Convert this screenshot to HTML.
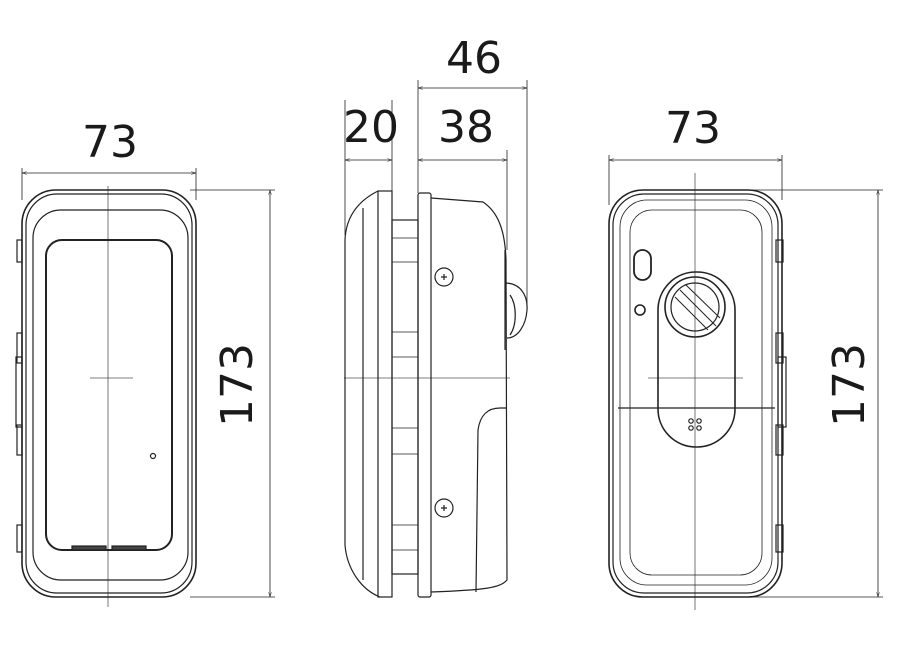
<!DOCTYPE html>
<html><head><meta charset="utf-8"><style>html,body{margin:0;padding:0;background:#fff}svg{display:block}text{font-family:"DejaVu Sans","Liberation Sans",sans-serif;fill:#1a1a1a}</style></head>
<body>
<svg width="903" height="647" viewBox="0 0 903 647" xmlns="http://www.w3.org/2000/svg" fill="none" stroke="#222" stroke-width="1.2">
<defs><marker id="a" viewBox="0 0 10 10" refX="10" refY="5" markerWidth="8" markerHeight="6" orient="auto-start-reverse"><path d="M0,2 L10,5 L0,8" stroke="#222" fill="none" stroke-width="1"/></marker></defs>

<!-- LEFT VIEW -->
<g stroke-width="0.8">
<line x1="22" y1="168" x2="22" y2="200"/><line x1="196" y1="168" x2="196" y2="200"/>
<line x1="22" y1="173" x2="196" y2="173" marker-start="url(#a)" marker-end="url(#a)"/>
<line x1="190" y1="190" x2="275" y2="190"/><line x1="190" y1="597" x2="275" y2="597"/>
<line x1="270" y1="190" x2="270" y2="597" marker-start="url(#a)" marker-end="url(#a)"/>
<line x1="108" y1="186" x2="108" y2="607" stroke="#555"/>
<line x1="90" y1="378" x2="133" y2="378" stroke="#555"/>
</g>
<rect x="22" y="190" width="174" height="407" rx="34" stroke-width="1.6"/>
<rect x="26" y="194" width="166" height="399" rx="31"/>
<rect x="33" y="210" width="155" height="370" rx="28"/>
<rect x="46" y="240" width="126" height="310" rx="16" stroke-width="2"/>
<circle cx="153" cy="456" r="2.5"/>
<rect x="72" y="546" width="34" height="4" fill="#444"/><rect x="112" y="546" width="34" height="4" fill="#444"/>
<rect x="17" y="240" width="5" height="22"/><rect x="17" y="333" width="5" height="30"/><rect x="16" y="357" width="6" height="70"/><rect x="17" y="425" width="5" height="30"/><rect x="17" y="525" width="5" height="27"/>
<text x="110" y="157" font-size="44" text-anchor="middle" stroke="none">73</text>
<text x="0" y="0" font-size="44" text-anchor="middle" stroke="none" transform="translate(252,385) rotate(-90)">173</text>

<!-- SIDE VIEW -->
<g stroke-width="0.8">
<line x1="345" y1="100" x2="345" y2="235"/><line x1="392" y1="100" x2="392" y2="191"/>
<line x1="418" y1="80" x2="418" y2="193"/><line x1="507" y1="150" x2="507" y2="250"/>
<line x1="527" y1="80" x2="527" y2="305"/>
<line x1="345" y1="160" x2="392" y2="160" marker-start="url(#a)" marker-end="url(#a)"/>
<line x1="418" y1="160" x2="507" y2="160" marker-start="url(#a)" marker-end="url(#a)"/>
<line x1="418" y1="88" x2="527" y2="88" marker-start="url(#a)" marker-end="url(#a)"/>
<line x1="344" y1="378" x2="510" y2="378" stroke="#555"/>
</g>
<text x="371" y="142" font-size="44" text-anchor="middle" stroke="none">20</text>
<text x="466" y="142" font-size="44" text-anchor="middle" stroke="none">38</text>
<text x="474" y="73" font-size="44" text-anchor="middle" stroke="none">46</text>
<path d="M378,191 L378,191 C360,200 346,215 345,240 L345,545 C347,570 362,590 380,597"/>
<line x1="363" y1="208" x2="363" y2="580"/>
<rect x="378" y="191" width="14" height="406"/>
<rect x="392" y="220" width="26" height="354"/>
<g stroke-width="0.8"><line x1="392" y1="238" x2="418" y2="238"/><line x1="392" y1="262" x2="418" y2="262"/><line x1="392" y1="332" x2="418" y2="332"/><line x1="392" y1="357" x2="418" y2="357"/><line x1="392" y1="428" x2="418" y2="428"/><line x1="392" y1="454" x2="418" y2="454"/><line x1="392" y1="525" x2="418" y2="525"/><line x1="392" y1="550" x2="418" y2="550"/></g>
<rect x="418" y="193" width="13" height="404" rx="2"/>
<path d="M431,198 L483,202 C498,212 505,230 506,260 L507,580 C500,588 485,590 431,592"/>
<path d="M505,250 L505,350"/>
<path d="M476,592 L478,430 C480,415 488,408 500,408 L507,408"/>
<path d="M505,283 C520,283 528,295 527,310 C526,325 518,338 507,338"/>
<path d="M510,295 C517,305 517,325 510,335"/>
<circle cx="444" cy="277" r="9"/><path d="M441,277h6M444,274v6"/>
<circle cx="444" cy="508" r="9"/><path d="M441,508h6M444,505v6"/>

<!-- RIGHT VIEW -->
<g stroke-width="0.8">
<line x1="609" y1="155" x2="609" y2="205"/><line x1="782" y1="155" x2="782" y2="200"/>
<line x1="609" y1="160" x2="782" y2="160" marker-start="url(#a)" marker-end="url(#a)"/>
<line x1="690" y1="190" x2="883" y2="190"/><line x1="690" y1="597" x2="883" y2="597"/>
<line x1="878" y1="190" x2="878" y2="597" marker-start="url(#a)" marker-end="url(#a)"/>
<line x1="695" y1="173" x2="695" y2="610" stroke="#555"/>
<line x1="648" y1="378" x2="743" y2="378" stroke="#555"/>
</g>
<text x="693" y="143" font-size="44" text-anchor="middle" stroke="none">73</text>
<text x="0" y="0" font-size="44" text-anchor="middle" stroke="none" transform="translate(864,385) rotate(-90)">173</text>
<rect x="609" y="190" width="173" height="407" rx="34" stroke-width="1.6"/>
<rect x="613" y="194" width="165" height="399" rx="31"/>
<rect x="620" y="200" width="152" height="385" rx="27" stroke-width="0.8"/>
<rect x="630" y="210" width="132" height="365" rx="22" stroke-width="0.8"/>
<line x1="618" y1="408" x2="775" y2="408"/>
<rect x="776" y="240" width="7" height="22"/><rect x="776" y="333" width="7" height="30"/><rect x="778" y="357" width="8" height="70"/><rect x="776" y="425" width="7" height="30"/><rect x="776" y="525" width="7" height="27"/>
<rect x="634" y="250" width="17" height="30" rx="8.5" stroke-width="1.8"/>
<circle cx="640" cy="310" r="5" stroke-width="1.6"/>
<rect x="658" y="272" width="77" height="175" rx="38" stroke-width="1.6"/>
<circle cx="695" cy="307" r="30" stroke-width="1.6"/>
<circle cx="695" cy="307" r="24"/>
<path d="M675,297 L708,330 M680,290 L716,326 M686,285 L720,318" stroke-width="1"/>
<circle cx="691" cy="421" r="2.2"/><circle cx="699" cy="421" r="2.2"/><circle cx="691" cy="428" r="2.2"/><circle cx="699" cy="428" r="2.2"/>
</svg>
</body></html>
